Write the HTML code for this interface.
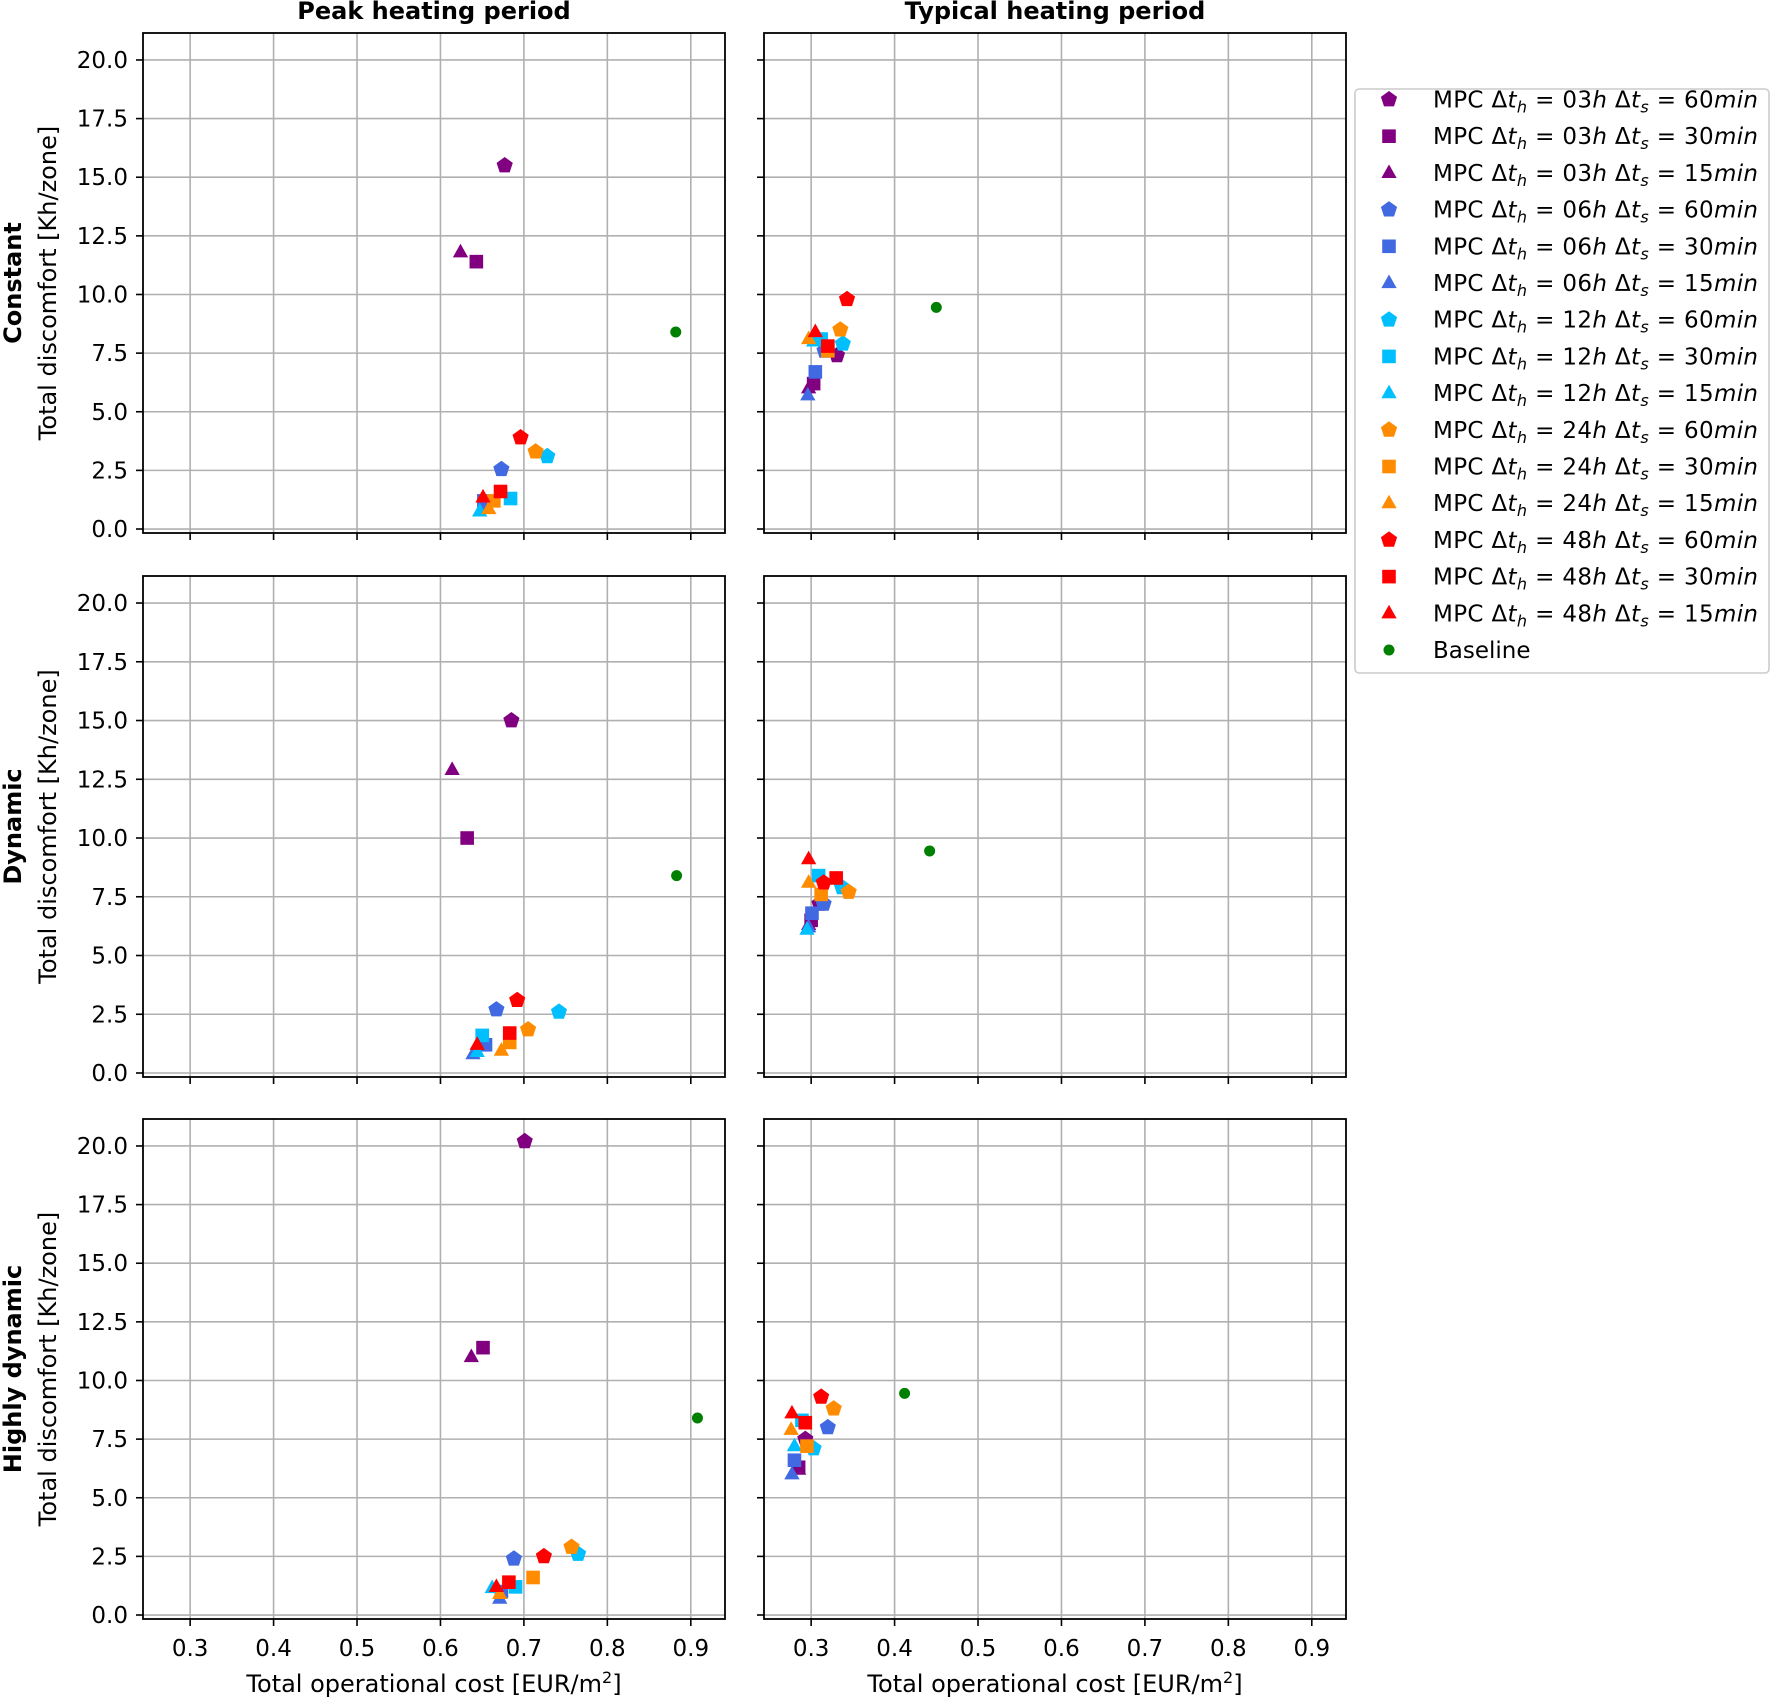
<!DOCTYPE html>
<html><head><meta charset="utf-8">
<style>
body{margin:0;background:#fff;}
svg{display:block;font-family:"DejaVu Sans","Liberation Sans",sans-serif;}
</style></head>
<body>
<svg id="chart" width="1772" height="1699" viewBox="0 0 1772 1699" xmlns="http://www.w3.org/2000/svg"></svg>
<script>
const seriesNames = ["03h-60","03h-30","03h-15","06h-60","06h-30","06h-15","12h-60","12h-30","12h-15","24h-60","24h-30","24h-15","48h-60","48h-30","48h-15","Baseline"];
const seriesColors = ["#800080","#800080","#800080","#4169e1","#4169e1","#4169e1","#00bfff","#00bfff","#00bfff","#ff8c00","#ff8c00","#ff8c00","#ff0000","#ff0000","#ff0000","#008000"];
const seriesShapes = ["pent","sq","tri","pent","sq","tri","pent","sq","tri","pent","sq","tri","pent","sq","tri","circ"];
const legendTh = ["03","03","03","06","06","06","12","12","12","24","24","24","48","48","48"];
const legendTs = ["60","30","15","60","30","15","60","30","15","60","30","15","60","30","15"];
const xTicks = [0.3,0.4,0.5,0.6,0.7,0.8,0.9];
const yTicks = [0,2.5,5,7.5,10,12.5,15,17.5,20];
const rowLabels = ["Constant","Dynamic","Highly dynamic"];
const colTitles = ["Peak heating period","Typical heating period"];
const costPeakConst = [0.677,0.643,0.624,0.673,0.652,0.650,0.728,0.684,0.647,0.714,0.664,0.658,0.696,0.672,0.651,0.882];
const discPeakConst = [15.5,11.4,11.8,2.55,1.2,0.9,3.1,1.3,0.75,3.3,1.2,0.85,3.9,1.6,1.35,8.4];
const costTypConst = [0.331,0.303,0.297,0.316,0.305,0.296,0.338,0.312,0.303,0.335,0.320,0.297,0.343,0.320,0.305,0.450];
const discTypConst = [7.4,6.2,6.0,7.6,6.7,5.7,7.9,8.1,8.0,8.5,7.6,8.1,9.8,7.8,8.4,9.45];
const costPeakDyn = [0.685,0.632,0.614,0.667,0.654,0.639,0.742,0.650,0.644,0.705,0.683,0.673,0.692,0.683,0.644,0.883];
const discPeakDyn = [15.0,10.0,12.9,2.7,1.2,0.8,2.6,1.6,0.9,1.85,1.3,0.95,3.1,1.7,1.2,8.4];
const costTypDyn = [0.310,0.300,0.297,0.315,0.301,0.297,0.337,0.309,0.295,0.345,0.312,0.297,0.315,0.330,0.297,0.442];
const discTypDyn = [7.2,6.5,6.3,7.2,6.8,6.2,7.9,8.4,6.1,7.7,7.6,8.1,8.1,8.3,9.1,9.45];
const costPeakHigh = [0.701,0.651,0.637,0.688,0.673,0.671,0.765,0.690,0.662,0.757,0.711,0.671,0.724,0.682,0.667,0.908];
const discPeakHigh = [20.2,11.4,11.0,2.4,1.0,0.7,2.6,1.2,1.15,2.9,1.6,0.9,2.5,1.4,1.2,8.4];
const costTypHigh = [0.293,0.285,0.285,0.320,0.280,0.277,0.303,0.289,0.280,0.327,0.295,0.276,0.312,0.293,0.277,0.412];
const discTypHigh = [7.5,6.3,6.2,8.0,6.6,6.0,7.1,8.3,7.2,8.8,7.2,7.9,9.3,8.2,8.6,9.45];

const panelData = [[[costPeakConst,discPeakConst],[costTypConst,discTypConst]],
                   [[costPeakDyn,discPeakDyn],[costTypDyn,discTypDyn]],
                   [[costPeakHigh,discPeakHigh],[costTypHigh,discTypHigh]]];

const NS="http://www.w3.org/2000/svg";
const svg=document.getElementById('chart');
function mk(tag,attrs,parent){const e=document.createElementNS(NS,tag);for(const k in attrs)e.setAttribute(k,attrs[k]);(parent||svg).appendChild(e);return e;}

const colX=[[143,725],[764,1346]];
const rowY=[[33,533],[576,1077],[1119,1619]];
const xMin=0.2435,xMax=0.941,yMin=-0.17,yMax=21.15;

function markerPath(shape,cx,cy,r){
  if(shape==="pent"){let p=[];for(let i=0;i<5;i++){const a=-Math.PI/2+i*2*Math.PI/5;p.push((cx+r*Math.cos(a)).toFixed(1)+","+(cy+r*Math.sin(a)).toFixed(1));}return "M"+p.join("L")+"Z";}
  if(shape==="sq"){const s=r*0.8;return `M${cx-s},${cy-s}H${cx+s}V${cy+s}H${cx-s}Z`;}
  if(shape==="tri"){return `M${cx},${cy-r}L${cx+r*0.9},${cy+r*0.6}L${cx-r*0.9},${cy+r*0.6}Z`;}
  return null;
}
function drawMarker(shape,cx,cy,color,parent){
  let e;
  if(shape==="circ"){e=mk('circle',{cx:cx,cy:cy,r:5.5,fill:color},parent);}
  else{e=mk('path',{d:markerPath(shape,cx,cy,8.5),fill:color},parent);}
  return e;
}

for(let r=0;r<3;r++){
  for(let c=0;c<2;c++){
    const [x0,x1]=colX[c],[y0,y1]=rowY[r];
    const sx=v=>x0+(v-xMin)/(xMax-xMin)*(x1-x0);
    const sy=v=>y1-(v-yMin)/(yMax-yMin)*(y1-y0);
    const g=mk('g',{});
    
    
    xTicks.forEach(t=>{
      const x=sx(t);
      const gl=mk('line',{x1:x,x2:x,y1:y0,y2:y1,stroke:'#b0b0b0','stroke-width':1.6},g);
      
      
      mk('line',{x1:x,x2:x,y1:y1,y2:y1+7,stroke:'#000','stroke-width':1.6},g);
      if(r===2){
        const tl=mk('text',{x:x,y:y1+37,'text-anchor':'middle','font-size':23,fill:'#000'},g);
        tl.textContent=t.toFixed(1);
        
        
      }
    });
    yTicks.forEach(t=>{
      const y=sy(t);
      const gl=mk('line',{x1:x0,x2:x1,y1:y,y2:y,stroke:'#b0b0b0','stroke-width':1.6},g);
      
      
      mk('line',{x1:x0-7,x2:x0,y1:y,y2:y,stroke:'#000','stroke-width':1.6},g);
      if(c===0){
        const tl=mk('text',{x:x0-15,y:y+8,'text-anchor':'end','font-size':23,fill:'#000'},g);
        tl.textContent=t.toFixed(1);
        
        
      }
    });
    const [xs,ys]=panelData[r][c];
    for(let i=0;i<seriesNames.length;i++){
      const m=drawMarker(seriesShapes[i],sx(xs[i]),sy(ys[i]),seriesColors[i],g);
      
      
    }
    const fr=mk('rect',{x:x0,y:y0,width:x1-x0,height:y1-y0,fill:'none',stroke:'#000','stroke-width':1.8},g);
    
    
    if(r===2){
      const xl=mk('text',{x:(x0+x1)/2,y:1692,'text-anchor':'middle','font-size':24,fill:'#000'},g);
      xl.innerHTML='Total operational cost [EUR/m<tspan baseline-shift="super" font-size="16">2</tspan>]';
      
      
    }
    if(r===0){
      const ct=mk('text',{x:(x0+x1)/2,y:19,'text-anchor':'middle','font-size':24,'font-weight':'bold',fill:'#000'},g);
      ct.textContent=colTitles[c];
      
      
    }
    if(c===0){
      const cy=(y0+y1)/2;
      const rl=mk('text',{x:0,y:0,'text-anchor':'middle','font-size':24,'font-weight':'bold',fill:'#000',transform:`translate(21,${cy}) rotate(-90)`},g);
      rl.textContent=rowLabels[r];
      
      
      const yl=mk('text',{x:0,y:0,'text-anchor':'middle','font-size':24,fill:'#000',transform:`translate(56,${cy}) rotate(-90)`},g);
      yl.textContent='Total discomfort [Kh/zone]';
      
      
    }
  }
}

const lg=mk('g',{});


mk('rect',{x:1355,y:89,width:414,height:584,rx:4,fill:'#fff',stroke:'#ccc','stroke-width':1.6},lg);
for(let i=0;i<seriesNames.length;i++){
  const y=99.5+i*36.7;
  const m=drawMarker(seriesShapes[i],1389,y,seriesColors[i],lg);
  
  
  const t=mk('text',{x:1433,y:y+8,'font-size':23,fill:'#000'},lg);
  if(i<15){
    t.setAttribute('textLength','325');
    t.setAttribute('lengthAdjust','spacing');
    t.innerHTML=`MPC Δ<tspan font-style="italic">t</tspan><tspan font-size="16" font-style="italic" dy="5">h</tspan><tspan dy="-5"> = ${legendTh[i]}</tspan><tspan font-style="italic">h</tspan> Δ<tspan font-style="italic">t</tspan><tspan font-size="16" font-style="italic" dy="5">s</tspan><tspan dy="-5"> = ${legendTs[i]}</tspan><tspan font-style="italic">min</tspan>`;
  } else t.textContent='Baseline';
  
  
}
</script>
</body></html>
